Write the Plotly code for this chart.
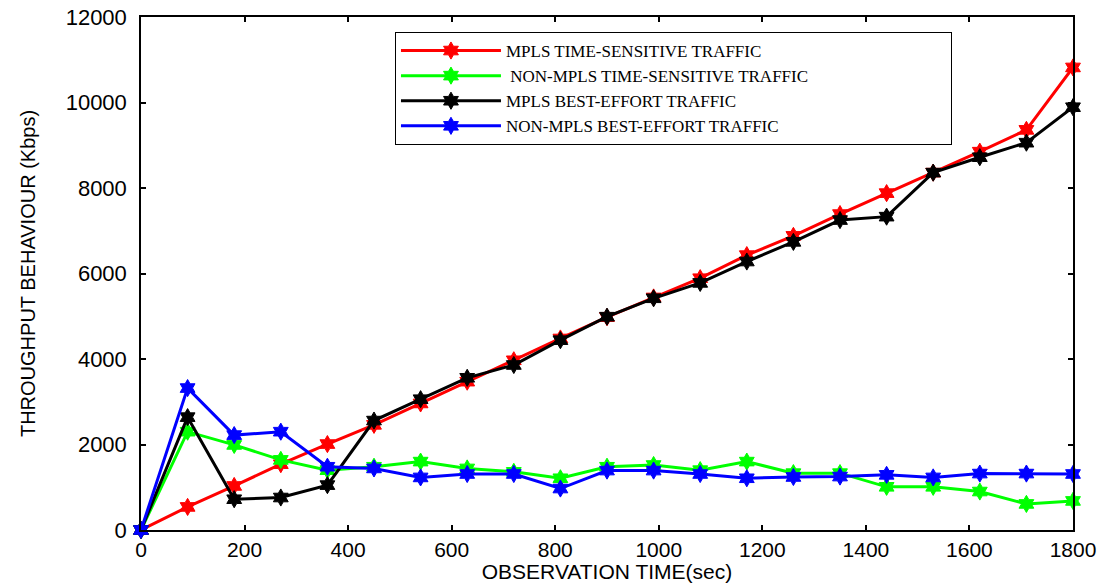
import plotly.graph_objects as go

time_sec = [0, 90, 180, 270, 360, 450, 540, 630, 720, 810, 900, 990, 1080, 1170, 1260, 1350, 1440, 1530, 1620, 1710, 1800]
mpls_ts = [0, 540, 1030, 1540, 2010, 2460, 2960, 3470, 3970, 4480, 4980, 5440, 5890, 6430, 6880, 7390, 7880, 8360, 8850, 9360, 10820]
nonmpls_ts = [0, 2300, 1990, 1640, 1400, 1480, 1600, 1440, 1360, 1210, 1480, 1520, 1400, 1600, 1330, 1330, 1010, 1010, 900, 610, 680]
mpls_be = [0, 2640, 720, 760, 1050, 2560, 3060, 3560, 3860, 4440, 4990, 5420, 5780, 6280, 6740, 7250, 7330, 8360, 8720, 9060, 9890]
nonmpls_be = [0, 3320, 2220, 2300, 1480, 1440, 1230, 1310, 1310, 970, 1390, 1390, 1310, 1210, 1240, 1250, 1290, 1230, 1320, 1320, 1310]

series_names = ["MPLS TIME-SENSITIVE TRAFFIC", " NON-MPLS TIME-SENSITIVE TRAFFIC",
                "MPLS BEST-EFFORT TRAFFIC", "NON-MPLS BEST-EFFORT TRAFFIC"]
series_values = [mpls_ts, nonmpls_ts, mpls_be, nonmpls_be]
series_colors = ["#FF0000", "#00FF00", "#000000", "#0000FF"]

x_ticks = [0, 200, 400, 600, 800, 1000, 1200, 1400, 1600, 1800]
y_ticks = [0, 2000, 4000, 6000, 8000, 10000, 12000]

fig = go.Figure()
for name, vals, col in zip(series_names, series_values, series_colors):
    fig.add_trace(go.Scatter(
        x=time_sec, y=vals, name=name, mode="lines+markers",
        line=dict(color=col, width=3),
        marker=dict(symbol="hexagram", size=13, color=col, line=dict(color=col, width=1)),
        cliponaxis=False,
    ))

axis_common = dict(
    showgrid=False, zeroline=False, showline=True, linecolor="black", linewidth=1.5,
    mirror="ticks", ticks="inside", ticklen=5, tickcolor="black", tickwidth=1.5,
    automargin=False,
)

fig.update_xaxes(range=[0, 1800], tickvals=x_ticks, ticktext=[str(v) for v in x_ticks],
                 tickfont=dict(family="Liberation Sans, Arial", size=21, color="black"),
                 title=dict(text="OBSERVATION TIME(sec)", standoff=0,
                            font=dict(family="Liberation Sans, Arial", size=21, color="black")),
                 ticklabelstandoff=0, **axis_common)
fig.update_yaxes(range=[0, 12000], tickvals=y_ticks, ticktext=[str(v) for v in y_ticks],
                 tickfont=dict(family="Liberation Sans, Arial", size=22, color="black"),
                 title=dict(text="THROUGHPUT BEHAVIOUR (Kbps)", standoff=25,
                            font=dict(family="Liberation Sans, Arial", size=20, color="black")),
                 ticklabelstandoff=8, **axis_common)

fig.update_layout(
    width=1104, height=583,
    margin=dict(l=141, r=31, t=17, b=53),
    paper_bgcolor="white", plot_bgcolor="white",
    legend=dict(x=0.2725, y=0.9708, xanchor="left", yanchor="top",
                orientation="h", entrywidth=440, entrywidthmode="pixels",
                bordercolor="black", borderwidth=1, bgcolor="white",
                itemwidth=100,
                font=dict(family="Liberation Serif, Times New Roman", size=17, color="black")),
)

fig.write_html("out.html")
